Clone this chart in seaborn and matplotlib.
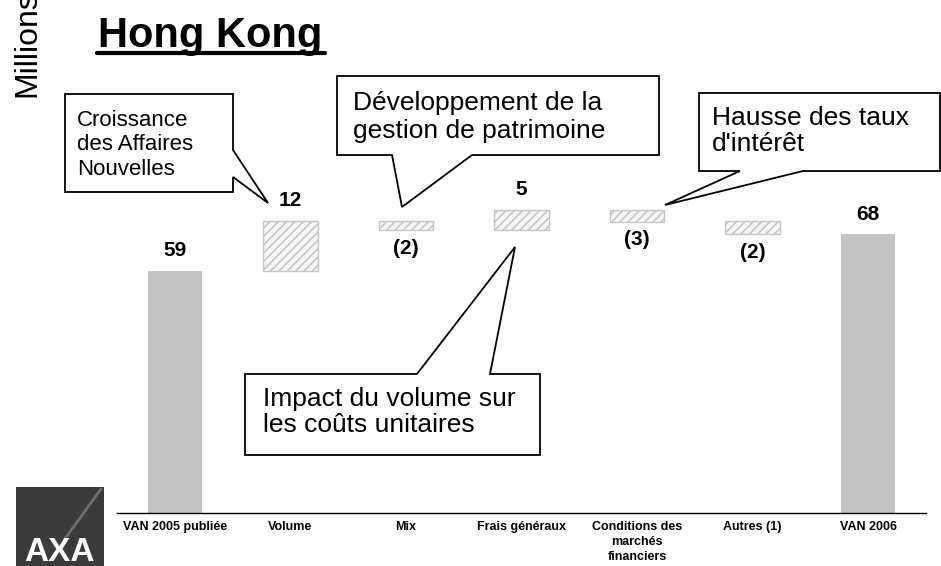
import numpy as np
import pandas as pd
import matplotlib
import matplotlib.pyplot as plt
import seaborn as sns
from matplotlib.patches import Polygon, Rectangle
from matplotlib.lines import Line2D

matplotlib.use('Agg')

# waterfall data (millions)
categories = ["VAN 2005 publiée", "Volume", "Mix", "Frais généraux",
              "Conditions des\nmarchés\nfinanciers", "Autres (1)", "VAN 2006"]
bar_bottom = [0, 59.0, 69.0, 69.0, 71.0, 68.0, 0]
bar_top = [59.0, 71.2, 71.2, 74.0, 74.0, 71.2, 68.0]
value_labels = ["59", "12", "(2)", "5", "(3)", "(2)", "68"]
is_total = [True, False, False, False, False, False, True]
is_negative = [False, False, True, False, True, True, False]

W, H = 941, 566


def fx(x):
    return x / W


def fy(y):
    return 1 - y / H


sns.set_style('white')
plt.rcParams['font.family'] = ['Liberation Sans', 'DejaVu Sans']
plt.rcParams['hatch.linewidth'] = 1.2
plt.rcParams['text.color'] = 'black'
plt.rcParams['xtick.color'] = 'black'
plt.rcParams['xtick.labelcolor'] = 'black'

df = pd.DataFrame({'category': categories, 'bottom': bar_bottom, 'top': bar_top})
df['height'] = df['top'] - df['bottom']

fig = plt.figure(figsize=(W / 100, H / 100), dpi=100)
ax = fig.add_axes([fx(117), 53 / H, (926 - 117) / W, 410 / H])

sns.barplot(data=df, x='category', y='height', bottom=df['bottom'].values,
            color='#C3C3C3', saturation=1, width=0.47, errorbar=None, ax=ax)

for patch, total in zip(ax.patches, is_total):
    if total:
        patch.set_facecolor('#C3C3C3')
        patch.set_edgecolor('none')
    else:
        patch.set_facecolor('#F6F6F6')
        patch.set_edgecolor('#C6C6C6')
        patch.set_hatch('////')
        patch.set_linewidth(1)

for i, (b, t, lab, neg) in enumerate(zip(bar_bottom, bar_top, value_labels, is_negative)):
    if neg:
        ax.annotate(lab, (i, b), xytext=(0, -13), textcoords='offset points',
                    ha='center', va='center', fontsize=15, fontweight='bold', color='black')
    else:
        ax.annotate(lab, (i, t), xytext=(0, 14.5), textcoords='offset points',
                    ha='center', va='center', fontsize=15, fontweight='bold', color='black')

ax.set_xlim(-0.5, 6.5)
ax.set_ylim(0, 100)
ax.set_yticks([])
ax.set_xlabel('')
ax.set_ylabel('')
ax.set_xticks(range(len(categories)))
ax.set_xticklabels(categories, fontsize=9, fontweight='bold', color='black')
for lab in ax.get_xticklabels():
    lab.set_linespacing(1.3)
ax.set_xticks(np.arange(-0.5, len(categories)), minor=True)
ax.tick_params(axis='x', which='major', length=0, pad=6)
ax.tick_params(axis='x', which='minor', length=3, width=1, color='black', direction='out')
for s in ['left', 'top', 'right']:
    ax.spines[s].set_visible(False)
ax.spines['bottom'].set_color('black')
ax.spines['bottom'].set_linewidth(1)

# callouts
callouts = [
    dict(pts=[(65, 94), (233, 94), (233, 150), (268, 203), (233, 177), (233, 192), (65, 192)],
         text="Croissance\ndes Affaires\nNouvelles", tx=77, ty=145, size=16, ls=1.19),
    dict(pts=[(337, 76), (659, 76), (659, 155), (472, 155), (402, 207), (392, 155), (337, 155)],
         text="Développement de la\ngestion de patrimoine", tx=353, ty=117, size=19, ls=1.2),
    dict(pts=[(699, 93), (940, 93), (940, 171), (803, 171), (665, 205), (740, 171), (699, 171)],
         text="Hausse des taux\nd'intérêt", tx=712, ty=131, size=19, ls=1.1),
    dict(pts=[(245, 374), (417, 374), (515, 247), (490, 374), (540, 374), (540, 455), (245, 455)],
         text="Impact du volume sur\nles coûts unitaires", tx=263, ty=412, size=19, ls=1.12),
]
for c in callouts:
    fig.add_artist(Polygon([(fx(x), fy(y)) for x, y in c['pts']], closed=True,
                           transform=fig.transFigure, facecolor='white',
                           edgecolor='black', lw=1.3, zorder=5))
    fig.text(fx(c['tx']), fy(c['ty']), c['text'], fontsize=c['size'], ha='left',
             va='center', linespacing=c['ls'], color='black', zorder=6)

# title
fig.text(fx(98), fy(47), 'Hong Kong', fontsize=30, fontweight='bold', ha='left',
         va='baseline', color='black')
fig.add_artist(Line2D([fx(97), fx(325)], [fy(52.5), fy(52.5)], color='black', lw=3,
                      transform=fig.transFigure))
fig.text(fx(27), fy(97), 'Millions', rotation=90, fontsize=23, ha='center', va='bottom',
         color='black')

# logo
fig.add_artist(Rectangle((fx(16), 0), fx(104) - fx(16), fy(487), transform=fig.transFigure,
                         facecolor='#3B3B3B', edgecolor='none'))
fig.add_artist(Line2D([fx(101), fx(64)], [fy(489), fy(540)], color='#6E6E6E', lw=2,
                      transform=fig.transFigure))
fig.text(fx(59), fy(561), 'AXA', color='white', fontsize=24, fontweight='bold',
         ha='center', va='baseline')

fig.savefig('out.png', dpi=100)
